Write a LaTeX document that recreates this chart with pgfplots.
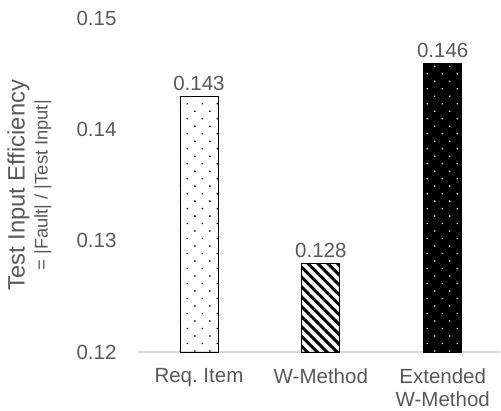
\documentclass[border=0pt]{standalone}
\usepackage{pgfplots}
\pgfplotsset{compat=1.18}
\usepackage{fontspec}
\setmainfont{Liberation Sans}
\usetikzlibrary{patterns.meta}
\definecolor{txtgray}{HTML}{595959}
\definecolor{axgray}{HTML}{D9D9D9}
\frenchspacing
\begin{document}
\begin{tikzpicture}
\begin{axis}[
  at={(0,0)}, anchor=south west,
  scale only axis, width=362pt, height=333.5pt,
  ybar, bar width=38pt, bar shift=0pt,
  xmin=-0.5, xmax=2.47, ymin=0.12, ymax=0.15,
  xtick={0,1,2},
  xticklabels={Req. Item, W-Method, Extended\\W-Method},
  ytick={0.12,0.13,0.14,0.15},
  scaled y ticks=false,
  /pgf/number format/assume math mode=true,
  yticklabel style={/pgf/number format/fixed, /pgf/number format/fixed zerofill, /pgf/number format/precision=2, xshift=-18pt},
  axis lines*=left,
  y axis line style={draw=none},
  x axis line style={draw=axgray, line width=1.5pt, -},
  major tick length=0pt,
  tick style={draw=none},
  font=\fontsize{20.5}{23}\selectfont,
  tick label style={text=txtgray, font=\fontsize{20.5}{23}\selectfont},
  xticklabel style={align=center, yshift=-13pt},
  ylabel={Test Input Efficiency\\{\fontsize{18.3}{23}\selectfont = |Fault| / |Test Input|}},
  ylabel style={align=center, text=txtgray, font=\fontsize{23.7}{23}\selectfont, at={(axis description cs:-0.30,0.50)}, anchor=center},
  nodes near coords={\pgfmathprintnumber[fixed, fixed zerofill, precision=3]{\pgfplotspointmeta}},
  nodes near coords style={text=txtgray, font=\fontsize{20.5}{23}\selectfont, yshift=2pt},
  clip=false,
]
\addplot[draw=black, line width=0.8pt, fill=white, pattern={Dots[angle=45, distance=10.6pt, radius=0.9pt]}, pattern color=black] coordinates {(0,0.143)};
\addplot[draw=black, line width=0.8pt, pattern={Lines[angle=-45, distance=7pt, line width=3pt]}, pattern color=black] coordinates {(1,0.128)};
\addplot[draw=black, line width=0.8pt, fill=black, postaction={pattern={Dots[angle=45, distance=10.6pt, radius=0.9pt]}, pattern color=white}] coordinates {(2,0.146)};
\end{axis}
\pgfresetboundingbox
\path[use as bounding box] (-138pt,-59pt) rectangle (363pt,352pt);
\end{tikzpicture}
\end{document}
